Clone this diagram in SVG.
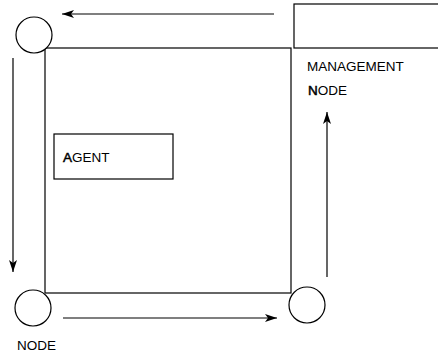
<svg xmlns="http://www.w3.org/2000/svg" width="438" height="356" viewBox="0 0 438 356">
  <style>
    .shape { fill: #fff; stroke: #000; stroke-width: 1.2; }
    .link { fill: none; stroke: #000; stroke-width: 1.2; }
    .label { font-family: "Liberation Sans", Arial, sans-serif; font-size: 13.5px; fill: #000; }
    .lead { stroke: #000; stroke-width: 0.5; }
  </style>
  <defs>
    <marker id="head" viewBox="0 0 12 8" refX="12" refY="4" markerWidth="12" markerHeight="8" markerUnits="userSpaceOnUse" orient="auto">
      <path d="M0,0 L12,4 L0,8 L3,4 Z" fill="#000"/>
    </marker>
  </defs>
  <rect width="438" height="356" fill="#fff"/>

  <!-- network square -->
  <g id="network">
    <rect class="shape" x="45" y="48" width="246" height="245" fill="none"/>
  </g>

  <!-- nodes -->
  <g id="node-top-left">
    <circle class="shape" cx="34" cy="35" r="18"/>
  </g>
  <g id="node-bottom-left">
    <circle class="shape" cx="33" cy="308" r="18"/>
    <text class="label" x="17" y="350">NODE</text>
  </g>
  <g id="node-bottom-right">
    <circle class="shape" cx="307" cy="305" r="18"/>
  </g>
  <g id="management-node">
    <rect class="shape" x="294" y="4" width="150" height="44"/>
    <text class="label" x="307" y="71">MANAGEMENT</text>
    <text class="label" x="308" y="95"><tspan class="lead">N</tspan>ODE</text>
  </g>
  <g id="agent">
    <rect class="shape" x="54" y="134" width="119" height="45"/>
    <text class="label" x="63" y="162"><tspan class="lead">A</tspan>GENT</text>
  </g>

  <!-- connectors -->
  <g id="connectors">
    <line class="link" x1="274" y1="14" x2="62" y2="14" marker-end="url(#head)"/>
    <line class="link" x1="13" y1="58" x2="13" y2="272" marker-end="url(#head)"/>
    <line class="link" x1="63" y1="318" x2="277" y2="318" marker-end="url(#head)"/>
    <line class="link" x1="327" y1="277" x2="327" y2="112" marker-end="url(#head)"/>
  </g>
</svg>
